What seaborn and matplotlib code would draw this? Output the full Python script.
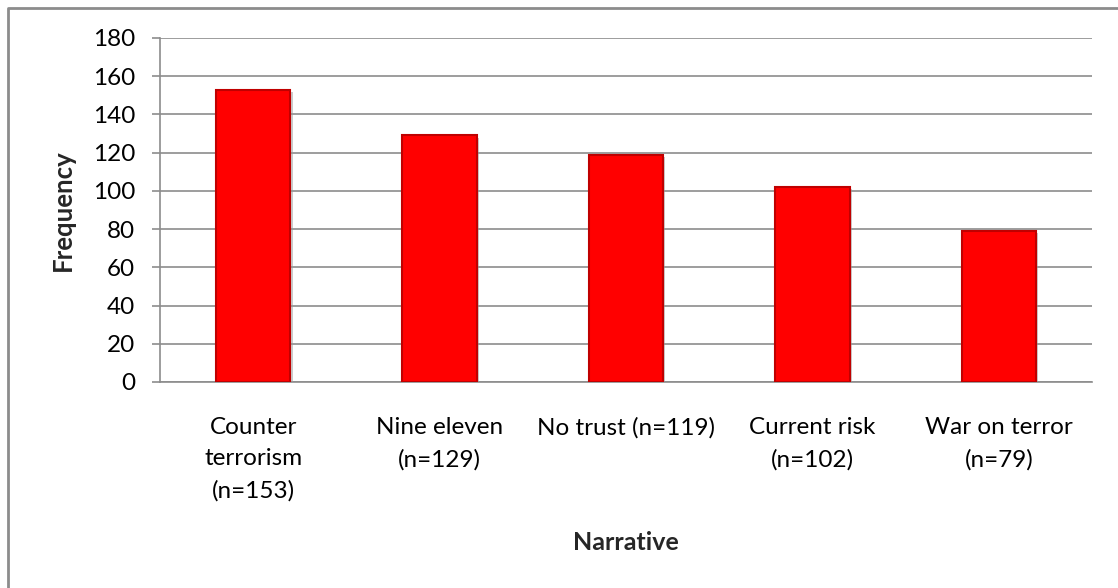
import matplotlib
matplotlib.use("Agg")
import matplotlib.pyplot as plt
import matplotlib.patheffects as pe
from matplotlib.lines import Line2D
import seaborn as sns
import pandas as pd

# Narrative categories and their frequencies
narratives = ["Counter\nterrorism", "Nine eleven", "No trust", "Current risk", "War on terror"]
label_sep = ["\n", "\n", " ", "\n", "\n"]
frequency = [153, 129, 119, 102, 79]
y_ticks = [0, 20, 40, 60, 80, 100, 120, 140, 160, 180]

labels = [f"{n}{s}(n={v})" for n, s, v in zip(narratives, label_sep, frequency)]
df = pd.DataFrame({"Narrative": labels, "Frequency": frequency})

sns.set_theme(style="white")
plt.rcParams["font.family"] = ["Lato", "DejaVu Sans"]

W, H = 1118, 588
fig = plt.figure(figsize=(W / 100, H / 100), dpi=100)
ax = fig.add_axes([160 / W, 1 - 382 / H, (1092 - 160) / W, (382 - 38) / H])

grid_col = "#8c8c8c"
fs = 17.5
sns.barplot(data=df, x="Narrative", y="Frequency", ax=ax, color="#ff0000",
            width=0.4, saturation=1, edgecolor="#c00000", linewidth=1.5, zorder=3)
for p in ax.patches:
    p.set_path_effects([pe.SimplePatchShadow(offset=(1.5, -1.5), shadow_rgbFace="#999999", alpha=0.5),
                        pe.Normal()])

ax.set_ylim(0, 180)
ax.set_xlim(-0.5, len(labels) - 0.5)
ax.set_yticks(y_ticks)
ax.yaxis.grid(True, color=grid_col, linewidth=1.2, zorder=0)
ax.xaxis.grid(False)
ax.set_axisbelow(True)

for side in ["top", "right"]:
    ax.spines[side].set_visible(False)
for side in ["left", "bottom"]:
    ax.spines[side].set_color(grid_col)
    ax.spines[side].set_linewidth(1.2)

ax.tick_params(axis="y", which="major", left=True, length=6, width=1.2, color=grid_col,
               pad=12, labelsize=fs, labelcolor="black")
ax.tick_params(axis="x", which="major", bottom=False, pad=19, labelsize=fs, labelcolor="black")
for t in ax.get_xticklabels():
    t.set_multialignment("center")
    t.set_linespacing(1.62)

ax.set_ylabel("Frequency", fontsize=18.5, fontweight="bold")
ax.set_xlabel("Narrative", fontsize=18, fontweight="bold")
ax.yaxis.set_label_coords(-(160 - 63) / (1092 - 160), 0.5)
ax.xaxis.set_label_coords(0.5, -(542 - 382) / (382 - 38))
ax.xaxis.label.set_verticalalignment("center")
ax.yaxis.label.set_verticalalignment("center")

# Chart-area frame (top and left edges)
fig.add_artist(Line2D([8 / W, 8 / W, 1.0], [0.0, 1 - 8 / H, 1 - 8 / H],
                      transform=fig.transFigure, color=grid_col, linewidth=2))

fig.savefig("out.png", dpi=100)
